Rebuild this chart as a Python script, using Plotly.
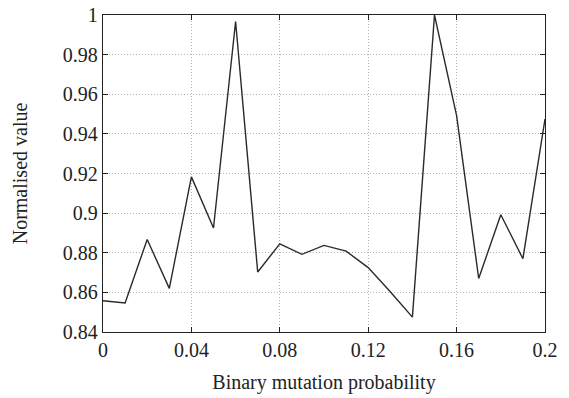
import plotly.graph_objects as go

# Binary mutation probability vs normalised value
mutation_prob = [0.00, 0.01, 0.02, 0.03, 0.04, 0.05, 0.06, 0.07, 0.08, 0.09, 0.10,
                 0.11, 0.12, 0.13, 0.14, 0.15, 0.16, 0.17, 0.18, 0.19, 0.20]
normalised_value = [0.8558, 0.8547, 0.8867, 0.8620, 0.9183, 0.8925, 0.9967, 0.8703,
                    0.8845, 0.8792, 0.8837, 0.8808, 0.8725, 0.8603, 0.8475, 1.0000,
                    0.9492, 0.8670, 0.8992, 0.8770, 0.9475]

x_ticks = [0, 0.04, 0.08, 0.12, 0.16, 0.2]
x_tick_labels = ["0", "0.04", "0.08", "0.12", "0.16", "0.2"]
y_ticks = [0.84, 0.86, 0.88, 0.90, 0.92, 0.94, 0.96, 0.98, 1.0]
y_tick_labels = ["0.84", "0.86", "0.88", "0.9", "0.92", "0.94", "0.96", "0.98", "1"]

font_family = "Liberation Serif, Times New Roman, serif"
text_color = "#222"

fig = go.Figure(
    go.Scatter(
        x=mutation_prob,
        y=normalised_value,
        mode="lines",
        line=dict(color="#2a2a2a", width=1.4),
        showlegend=False,
    )
)

axis_common = dict(
    showline=True,
    linecolor="#222",
    linewidth=1.4,
    mirror="ticks",
    ticks="inside",
    ticklen=5,
    tickwidth=1,
    tickcolor="#222",
    showgrid=True,
    gridcolor="#b4b4b4",
    griddash="1px,2px",
    gridwidth=1,
    zeroline=False,
    automargin=False,
    tickfont=dict(family=font_family, size=20, color=text_color),
)

fig.update_xaxes(
    range=[0, 0.2],
    tickvals=x_ticks,
    ticktext=x_tick_labels,
    title=dict(text="Binary mutation probability",
               font=dict(family=font_family, size=20, color=text_color), standoff=14),
    **axis_common,
)
fig.update_yaxes(
    range=[0.84, 1.0],
    tickvals=y_ticks,
    ticktext=y_tick_labels,
    ticklabelstandoff=0,
    title=dict(text="Normalised value",
               font=dict(family=font_family, size=20, color=text_color), standoff=29),
    **axis_common,
)

fig.update_layout(
    width=569,
    height=398,
    margin=dict(l=103, r=24, t=15, b=66),
    paper_bgcolor="white",
    plot_bgcolor="white",
)

fig.write_html("out.html")
